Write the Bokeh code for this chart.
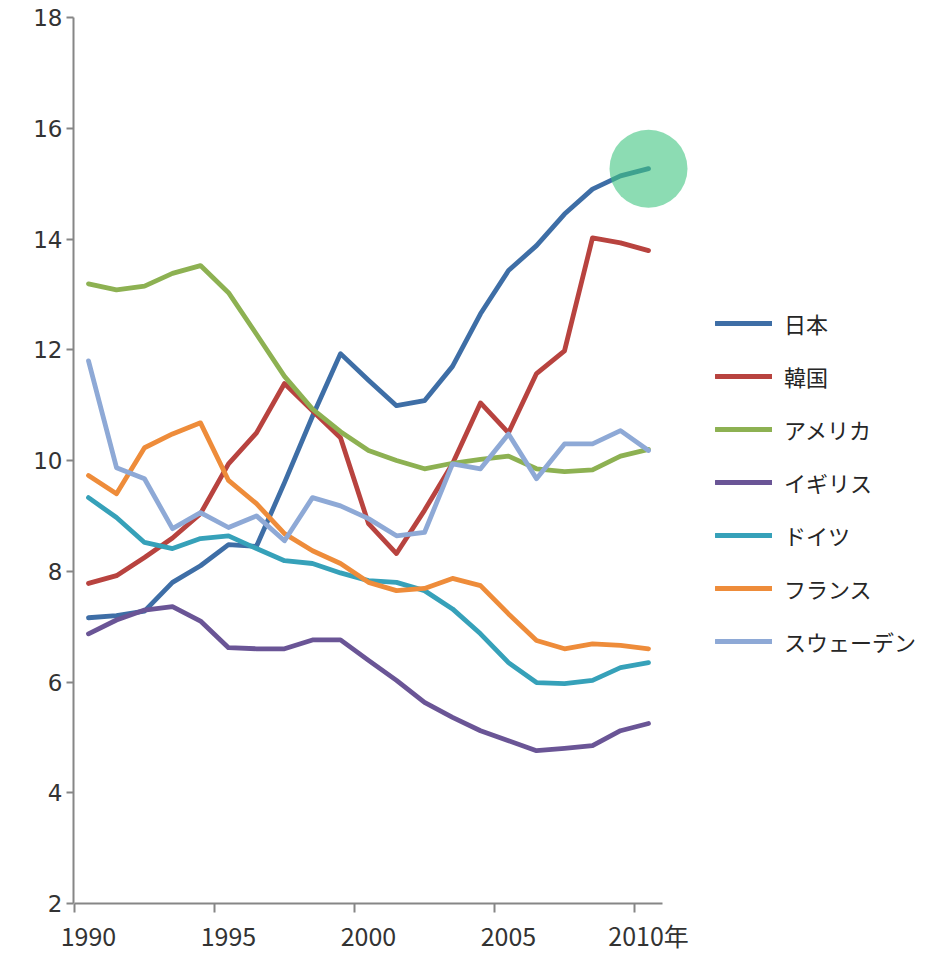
from bokeh.plotting import figure
from bokeh.models import (Range1d, FixedTicker, Legend, LegendItem)
from bokeh.embed import file_html
from bokeh.resources import INLINE

# Years on the horizontal axis
years = list(range(1990, 2011))

# Series values per country, 1990-2010
japan = [7.16, 7.20, 7.28, 7.80, 8.10, 8.48, 8.45, 9.60, 10.80, 11.93, 11.45,
         10.99, 11.08, 11.70, 12.65, 13.43, 13.88, 14.45, 14.90, 15.14, 15.27]
korea = [7.78, 7.92, 8.25, 8.60, 9.04, 9.94, 10.50, 11.39, 10.90, 10.41, 8.86,
         8.32, 9.10, 9.94, 11.04, 10.50, 11.57, 11.98, 14.02, 13.93, 13.79]
usa = [13.19, 13.08, 13.15, 13.38, 13.52, 13.03, 12.28, 11.52, 10.93, 10.52, 10.18,
       10.00, 9.85, 9.95, 10.02, 10.08, 9.85, 9.80, 9.83, 10.08, 10.20]
uk = [6.87, 7.12, 7.30, 7.36, 7.10, 6.62, 6.60, 6.60, 6.76, 6.76, 6.39,
      6.03, 5.63, 5.36, 5.12, 4.94, 4.76, 4.80, 4.85, 5.12, 5.25]
germany = [9.33, 8.97, 8.52, 8.41, 8.59, 8.64, 8.41, 8.19, 8.14, 7.97, 7.83,
           7.80, 7.65, 7.32, 6.87, 6.35, 5.99, 5.97, 6.03, 6.26, 6.35]
france = [9.73, 9.40, 10.23, 10.48, 10.68, 9.64, 9.22, 8.68, 8.37, 8.14, 7.80,
          7.65, 7.69, 7.87, 7.74, 7.23, 6.75, 6.60, 6.69, 6.66, 6.60]
sweden = [11.80, 9.87, 9.67, 8.77, 9.06, 8.79, 9.00, 8.55, 9.33, 9.18, 8.95,
          8.64, 8.70, 9.94, 9.85, 10.48, 9.67, 10.30, 10.30, 10.54, 10.18]

names = ["日本", "韓国", "アメリカ", "イギリス", "ドイツ", "フランス", "スウェーデン"]
series = [japan, korea, usa, uk, germany, france, sweden]
colors = ["#3e6ea6", "#b8433f", "#8db152", "#6a5596", "#36a1b9", "#ee8c3a", "#8ea9d6"]

y_ticks = [2, 4, 6, 8, 10, 12, 14, 16, 18]
x_label_years = [1990, 1995, 2000, 2005, 2010]
x_label_text = {1990: "1990", 1995: "1995", 2000: "2000", 2005: "2005", 2010: "2010年"}

p = figure(width=929, height=955, output_backend="svg", toolbar_location=None,
           x_range=Range1d(1989.4643, 2020.0357), y_range=Range1d(2, 18),
           min_border_left=73, min_border_right=0, min_border_top=17,
           min_border_bottom=52)
p.outline_line_color = None
p.grid.visible = False
p.background_fill_color = "white"
p.border_fill_color = "white"

# x axis: labels centred on years, tick marks between categories
xa = p.xaxis[0]
xa.bounds = (1989.5, 2010.5)
xa.ticker = FixedTicker(ticks=x_label_years,
                        minor_ticks=[1989.5, 1994.5, 1999.5, 2004.5, 2009.5])
xa.major_label_overrides = x_label_text
xa.major_tick_line_color = None
xa.minor_tick_line_color = "#868686"
xa.minor_tick_line_width = 2
xa.minor_tick_out = 9
xa.minor_tick_in = 0
xa.axis_line_color = "#868686"
xa.axis_line_width = 2
xa.major_label_text_font = "Noto Sans CJK JP"
xa.major_label_text_font_size = "25px"
xa.major_label_text_color = "#333333"
xa.major_label_standoff = 4

ya = p.yaxis[0]
ya.ticker = FixedTicker(ticks=y_ticks)
ya.minor_tick_line_color = None
ya.major_tick_line_color = "#868686"
ya.major_tick_line_width = 2
ya.major_tick_out = 7
ya.major_tick_in = 0
ya.axis_line_color = "#868686"
ya.axis_line_width = 2
ya.major_label_text_font = "DejaVu Sans"
ya.major_label_text_font_size = "23px"
ya.major_label_text_color = "#333333"
ya.major_label_standoff = 4

items = []
for name, vals, col in zip(names, series, colors):
    r = p.line(years, vals, line_color=col, line_width=4.8, line_join="round",
               line_cap="round")
    items.append(LegendItem(label=name, renderers=[r]))

# highlight on Japan's latest value
p.scatter(x=[years[-1]], y=[japan[-1]], size=78, marker="circle",
          fill_color="#40c480", fill_alpha=0.6, line_color=None)

legend = Legend(items=items, location=(642, 246), padding=0, margin=0,
                spacing=21, glyph_width=57, glyph_height=30, label_height=30,
                label_standoff=12, border_line_color=None,
                background_fill_alpha=0,
                label_text_font="Noto Sans CJK JP",
                label_text_font_size="22px", label_text_color="#262626")
p.add_layout(legend)

open("out.html", "w").write(file_html(p, INLINE))
